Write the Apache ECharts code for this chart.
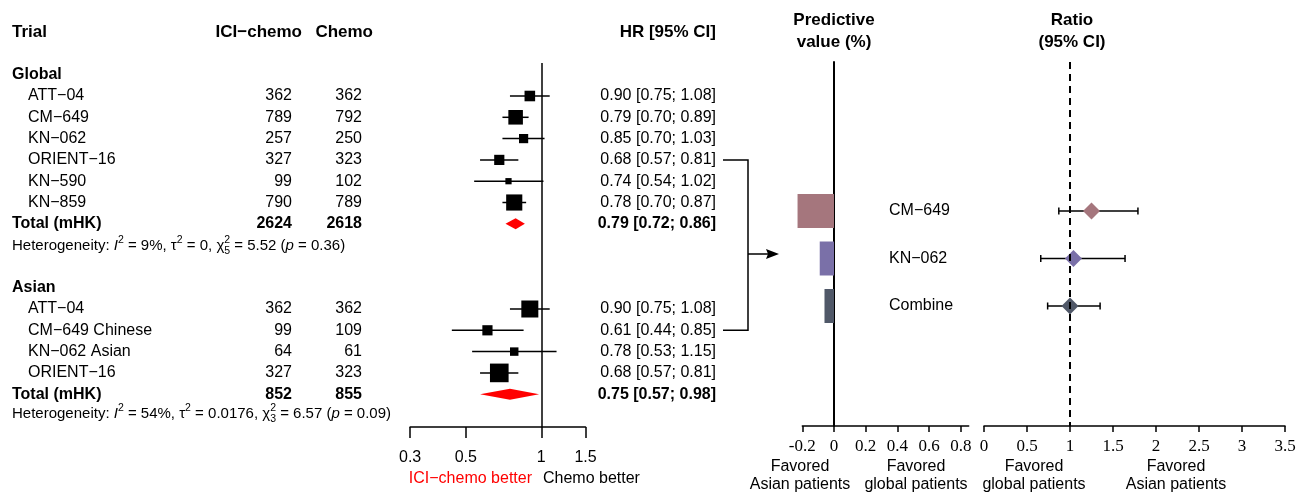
<html>
<head>
	<meta charset="utf-8">
	<title>ICI-chemo forest plot</title>
	<script src="https://cdn.jsdelivr.net/npm/echarts@6.0.0/dist/echarts.min.js"></script>
	<style>
		body { margin: 0; background: #fff; }
		#main { width: 1305px; height: 493px; }
	</style>
</head>
<body>
	<div id="main"></div>
	<script>
		// global subgroup
		var globalTrials = ['ATT−04', 'CM−649', 'KN−062', 'ORIENT−16', 'KN−590', 'KN−859']
		var globalIci = [362, 789, 257, 327, 99, 790]
		var globalChemo = [362, 792, 250, 323, 102, 789]
		var globalHr = [0.90, 0.79, 0.85, 0.68, 0.74, 0.78]
		var globalLo = [0.75, 0.70, 0.70, 0.57, 0.54, 0.70]
		var globalHi = [1.08, 0.89, 1.03, 0.81, 1.02, 0.87]
		var globalWeight = [13.8, 26.1, 10.4, 12.8, 4.8, 32.1]
		var globalTotal = [2624, 2618, 0.79, 0.72, 0.86]

		// asian subgroup
		var asianTrials = ['ATT−04', 'CM−649 Chinese', 'KN−062 Asian', 'ORIENT−16']
		var asianIci = [362, 99, 64, 327]
		var asianChemo = [362, 109, 61, 323]
		var asianHr = [0.90, 0.61, 0.78, 0.68]
		var asianLo = [0.75, 0.44, 0.53, 0.57]
		var asianHi = [1.08, 0.85, 1.15, 0.81]
		var asianWeight = [35.6, 12.8, 8.8, 42.8]
		var asianTotal = [852, 855, 0.75, 0.57, 0.98]

		// predictive value and ratio
		var predLabels = ['CM−649', 'KN−062', 'Combine']
		var predValue = [-0.23, -0.09, -0.06]
		var ratioEst = [1.25, 1.04, 1.00]
		var ratioLo = [0.87, 0.66, 0.74]
		var ratioHi = [1.79, 1.64, 1.35]

		var forestTicks = [0.3, 0.5, 1, 1.5]
		var predTicks = [-0.2, 0, 0.2, 0.4, 0.6, 0.8]
		var ratioTicks = [0, 0.5, 1, 1.5, 2, 2.5, 3, 3.5]

		var predColors = ['#a5767d', '#7a70a8', '#505868']
		var sans = '"Liberation Sans", Arial, Helvetica, sans-serif'
		var serif = '"Liberation Serif", "Times New Roman", serif'

		var rowH = 21.3
		var tableTop = 32.1
		var forestBottom = 427
		var forestMax = (forestBottom - tableTop) / rowH
		function rowY(r) {
			return tableTop + r * rowH
		}

		var panelTop = 62
		var panelBottom = 426
		var barTop = 211
		var barStep = 47.5
		var panelMin = (panelTop - barTop) / barStep
		var panelMax = (panelBottom - barTop) / barStep

		function fmt(v) {
			return v.toFixed(2)
		}
		function hrText(hr, lo, hi) {
			return fmt(hr) + ' [' + fmt(lo) + '; ' + fmt(hi) + ']'
		}

		function txt(x, y, text, o) {
			o = o || {}
			return {
				type: 'text',
				x: x,
				y: y,
				silent: true,
				style: {
					text: text,
					fill: o.color || '#000',
					fontSize: o.size || 16,
					fontFamily: o.family || sans,
					fontWeight: o.bold ? 'bold' : 'normal',
					fontStyle: o.italic ? 'italic' : 'normal',
					align: o.align || 'left',
					verticalAlign: 'middle'
				}
			}
		}

		var ctx = document.createElement('canvas').getContext('2d')
		function measure(text, size, italic) {
			ctx.font = (italic ? 'italic ' : '') + size + 'px ' + sans
			return ctx.measureText(text).width
		}

		// heterogeneity line with super/subscripts
		var hetSize = 15
		var smallSize = 10.5
		function hetLine(x, y, segs) {
			var els = []
			segs.forEach(function(s) {
				var t = s[0], kind = s[1]
				if (kind === 'ss') {
					els.push(txt(x, y - 6, t[0], { size: smallSize }))
					els.push(txt(x, y + 5, t[1], { size: smallSize }))
					x += Math.max(measure(t[0], smallSize), measure(t[1], smallSize))
				} else if (kind === 's') {
					els.push(txt(x, y - 6, t, { size: smallSize }))
					x += measure(t, smallSize)
				} else {
					els.push(txt(x, y, t, { size: hetSize, italic: kind === 'i' }))
					x += measure(t, hetSize, kind === 'i')
				}
			})
			return els
		}

		var forestData = []
		var graphics = []

		function addGroup(title, startRow, trials, ici, chemo, hr, lo, hi, weight, total) {
			graphics.push(txt(12, rowY(startRow), title, { bold: true }))
			for (var i = 0; i < trials.length; i++) {
				var r = startRow + 1 + i
				graphics.push(txt(28, rowY(r), trials[i]))
				graphics.push(txt(292, rowY(r), String(ici[i]), { align: 'right' }))
				graphics.push(txt(362, rowY(r), String(chemo[i]), { align: 'right' }))
				graphics.push(txt(716, rowY(r), hrText(hr[i], lo[i], hi[i]), { align: 'right' }))
				forestData.push([Math.log(hr[i]), Math.log(lo[i]), Math.log(hi[i]), r, weight[i], 0])
			}
			var tr = startRow + 1 + trials.length
			graphics.push(txt(12, rowY(tr), 'Total (mHK)', { bold: true }))
			graphics.push(txt(292, rowY(tr), String(total[0]), { align: 'right', bold: true }))
			graphics.push(txt(362, rowY(tr), String(total[1]), { align: 'right', bold: true }))
			graphics.push(txt(716, rowY(tr), hrText(total[2], total[3], total[4]), { align: 'right', bold: true }))
			forestData.push([Math.log(total[2]), Math.log(total[3]), Math.log(total[4]), tr, 0, 1])
			return tr
		}

		// headers
		graphics.push(txt(12, 32, 'Trial', { bold: true, size: 17 }))
		graphics.push(txt(302, 32, 'ICI−chemo', { bold: true, size: 17, align: 'right' }))
		graphics.push(txt(373, 32, 'Chemo', { bold: true, size: 17, align: 'right' }))
		graphics.push(txt(716, 32, 'HR [95% CI]', { bold: true, size: 17, align: 'right' }))
		graphics.push(txt(834, 20, 'Predictive', { bold: true, size: 17, align: 'center' }))
		graphics.push(txt(834, 42, 'value (%)', { bold: true, size: 17, align: 'center' }))
		graphics.push(txt(1072, 20, 'Ratio', { bold: true, size: 17, align: 'center' }))
		graphics.push(txt(1072, 42, '(95% CI)', { bold: true, size: 17, align: 'center' }))

		var gTot = addGroup('Global', 2, globalTrials, globalIci, globalChemo, globalHr, globalLo, globalHi, globalWeight, globalTotal)
		graphics = graphics.concat(hetLine(12, rowY(gTot) + 22, [
			['Heterogeneity: ', 'n'], ['I', 'i'], ['2', 's'], [' = 9%, τ', 'n'], ['2', 's'],
			[' = 0, χ', 'n'], ['25', 'ss'], [' = 5.52 (', 'n'], ['p', 'i'], [' = 0.36)', 'n']
		]))
		var aTot = addGroup('Asian', 12, asianTrials, asianIci, asianChemo, asianHr, asianLo, asianHi, asianWeight, asianTotal)
		graphics = graphics.concat(hetLine(12, rowY(aTot) + 20, [
			['Heterogeneity: ', 'n'], ['I', 'i'], ['2', 's'], [' = 54%, τ', 'n'], ['2', 's'],
			[' = 0.0176, χ', 'n'], ['23', 'ss'], [' = 6.57 (', 'n'], ['p', 'i'], [' = 0.09)', 'n']
		]))

		// bottom labels
		graphics.push(txt(532, 479, 'ICI−chemo better', { color: '#ff0000', align: 'right' }))
		graphics.push(txt(543, 479, 'Chemo better'))
		graphics.push(txt(800, 467, 'Favored', { align: 'center' }))
		graphics.push(txt(800, 485, 'Asian patients', { align: 'center' }))
		graphics.push(txt(916, 467, 'Favored', { align: 'center' }))
		graphics.push(txt(916, 485, 'global patients', { align: 'center' }))
		graphics.push(txt(1034, 467, 'Favored', { align: 'center' }))
		graphics.push(txt(1034, 485, 'global patients', { align: 'center' }))
		graphics.push(txt(1176, 467, 'Favored', { align: 'center' }))
		graphics.push(txt(1176, 485, 'Asian patients', { align: 'center' }))

		// bracket from ORIENT-16 / CM-649 Chinese to the right panels
		var b1 = rowY(6), b2 = rowY(14), bm = 254
		graphics.push({
			type: 'polyline',
			silent: true,
			shape: { points: [[723, b1], [748, b1], [748, b2], [723, b2]] },
			style: { stroke: '#000', lineWidth: 1.5, fill: null }
		})
		graphics.push({
			type: 'line',
			silent: true,
			shape: { x1: 748, y1: bm, x2: 770, y2: bm },
			style: { stroke: '#000', lineWidth: 1.5 }
		})
		graphics.push({
			type: 'polygon',
			silent: true,
			shape: { points: [[779, bm], [766, bm - 5], [768, bm], [766, bm + 5]] },
			style: { fill: '#000' }
		})

		var predData = predValue.map(function(v, i) { return [v, i] })
		var ratioData = ratioEst.map(function(v, i) { return [v, ratioLo[i], ratioHi[i], i] })

		var chart = echarts.init(document.getElementById('main'))
		chart.setOption({
			animation: false,
			textStyle: { fontFamily: sans },
			grid: [
				{ left: 410.1, top: tableTop, width: 175.4, height: forestBottom - tableTop, containLabel: false, outerBoundsMode: 'none' },
				{ left: 802.3, top: panelTop, width: 166.4, height: panelBottom - panelTop, containLabel: false, outerBoundsMode: 'none' },
				{ left: 984, top: panelTop, width: 301, height: panelBottom - panelTop, containLabel: false, outerBoundsMode: 'none' }
			],
			xAxis: [{
				gridIndex: 0,
				type: 'value',
				min: Math.log(0.3),
				max: Math.log(1.5),
				splitLine: { show: false },
				axisLine: { onZero: false, lineStyle: { color: '#000', width: 1.5 } },
				axisTick: { customValues: forestTicks.map(Math.log), length: 11, lineStyle: { color: '#000', width: 1.5 } },
				axisLabel: {
					customValues: forestTicks.map(Math.log),
					formatter: function(v) { return String(+Math.exp(v).toFixed(2)) },
					color: '#000', fontSize: 16, margin: 23
				}
			}, {
				gridIndex: 1,
				type: 'value',
				min: -0.2,
				max: 0.85,
				splitLine: { show: false },
				axisLine: { onZero: false, lineStyle: { color: '#000', width: 1.5 } },
				axisTick: { customValues: predTicks, length: 6, lineStyle: { color: '#000', width: 1.5 } },
				axisLabel: { customValues: predTicks, color: '#000', fontSize: 17, fontFamily: serif, margin: 12 }
			}, {
				gridIndex: 2,
				type: 'value',
				min: 0,
				max: 3.5,
				splitLine: { show: false },
				axisLine: { onZero: false, lineStyle: { color: '#000', width: 1.5 } },
				axisTick: { customValues: ratioTicks, length: 6, lineStyle: { color: '#000', width: 1.5 } },
				axisLabel: { customValues: ratioTicks, color: '#000', fontSize: 17, fontFamily: serif, margin: 12 }
			}],
			yAxis: [{
				gridIndex: 0,
				type: 'value',
				inverse: true,
				min: 0,
				max: forestMax,
				show: false
			}, {
				gridIndex: 1,
				type: 'value',
				inverse: true,
				min: panelMin,
				max: panelMax,
				splitLine: { show: false },
				axisLine: { show: true, onZero: true, lineStyle: { color: '#000', width: 2 } },
				axisTick: { show: false },
				axisLabel: { show: false }
			}, {
				gridIndex: 2,
				type: 'value',
				inverse: true,
				min: panelMin,
				max: panelMax,
				splitLine: { show: false },
				axisLine: { show: false },
				axisTick: { show: false },
				axisLabel: {
					customValues: [0, 1, 2],
					formatter: function(v) { return predLabels[Math.round(v)] },
					align: 'left', margin: 95, color: '#000', fontSize: 16
				}
			}],
			series: [{
				type: 'custom',
				xAxisIndex: 0,
				yAxisIndex: 0,
				silent: true,
				data: forestData,
				encode: { x: [0, 1, 2], y: 3 },
				renderItem: function(params, api) {
					var row = api.value(3)
					var c = api.coord([api.value(0), row])
					var pl = api.coord([api.value(1), row])
					var ph = api.coord([api.value(2), row])
					if (api.value(5) === 1) {
						return {
							type: 'polygon',
							shape: { points: [[pl[0], c[1]], [c[0], c[1] - 5.5], [ph[0], c[1]], [c[0], c[1] + 5.5]] },
							style: { fill: '#ff0000' }
						}
					}
					var s = 2.85 * Math.sqrt(api.value(4))
					return {
						type: 'group',
						children: [{
							type: 'line',
							shape: { x1: pl[0], y1: c[1], x2: ph[0], y2: c[1] },
							style: { stroke: '#000', lineWidth: 1.5 }
						}, {
							type: 'rect',
							shape: { x: c[0] - s / 2, y: c[1] - s / 2, width: s, height: s },
							style: { fill: '#000' }
						}]
					}
				},
				markLine: {
					silent: true,
					symbol: ['none', 'none'],
					label: { show: false },
					lineStyle: { color: '#000', width: 1.5, type: 'solid' },
					data: [[{ coord: [0, (63 - tableTop) / rowH] }, { coord: [0, forestMax] }]]
				}
			}, {
				type: 'custom',
				xAxisIndex: 1,
				yAxisIndex: 1,
				silent: true,
				data: predData,
				encode: { x: 0, y: 1 },
				renderItem: function(params, api) {
					var p0 = api.coord([0, api.value(1)])
					var p1 = api.coord([api.value(0), api.value(1)])
					return {
						type: 'rect',
						shape: { x: Math.min(p0[0], p1[0]), y: p0[1] - 17, width: Math.abs(p1[0] - p0[0]), height: 34 },
						style: { fill: predColors[params.dataIndex] }
					}
				}
			}, {
				type: 'custom',
				xAxisIndex: 2,
				yAxisIndex: 2,
				silent: true,
				data: ratioData,
				encode: { x: [0, 1, 2], y: 3 },
				renderItem: function(params, api) {
					var row = api.value(3)
					var c = api.coord([api.value(0), row])
					var pl = api.coord([api.value(1), row])
					var ph = api.coord([api.value(2), row])
					var d = 8.5
					return {
						type: 'group',
						children: [{
							type: 'line',
							shape: { x1: pl[0], y1: c[1], x2: ph[0], y2: c[1] },
							style: { stroke: '#000', lineWidth: 1.5 }
						}, {
							type: 'line',
							shape: { x1: pl[0], y1: c[1] - 3.5, x2: pl[0], y2: c[1] + 3.5 },
							style: { stroke: '#000', lineWidth: 1.5 }
						}, {
							type: 'line',
							shape: { x1: ph[0], y1: c[1] - 3.5, x2: ph[0], y2: c[1] + 3.5 },
							style: { stroke: '#000', lineWidth: 1.5 }
						}, {
							type: 'polygon',
							shape: { points: [[c[0] - d, c[1]], [c[0], c[1] - d], [c[0] + d, c[1]], [c[0], c[1] + d]] },
							style: { fill: predColors[params.dataIndex] }
						}]
					}
				},
				markLine: {
					silent: true,
					symbol: ['none', 'none'],
					label: { show: false },
					lineStyle: { color: '#000', width: 2, type: [7, 5] },
					data: [{ xAxis: 1 }]
				}
			}],
			graphic: graphics
		})
	</script>
</body>
</html>
